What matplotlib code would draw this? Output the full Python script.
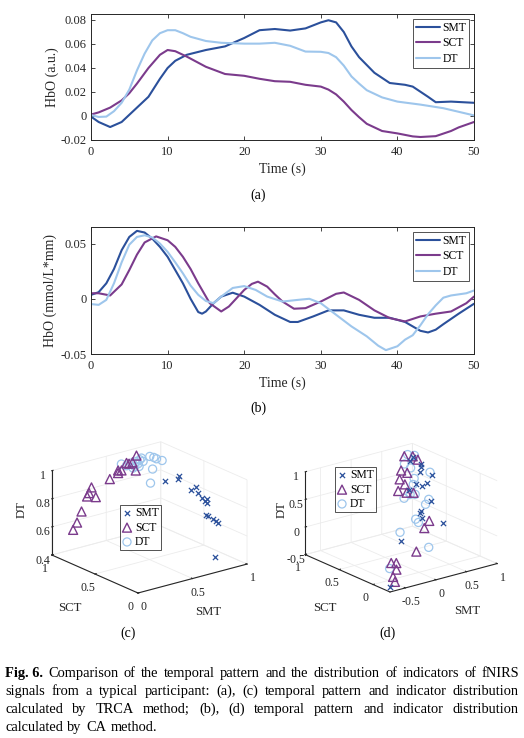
import numpy as np
import matplotlib
matplotlib.use('Agg')
import matplotlib.pyplot as plt
from mpl_toolkits.mplot3d import proj3d

plt.rcParams['font.family'] = ['Liberation Serif', 'DejaVu Serif']
plt.rcParams['mathtext.fontset'] = 'stix'

# ---------------- data ----------------
series_names = ['SMT', 'SCT', 'DT']
colors = {'SMT': '#2B509B', 'SCT': '#7B3B8C', 'DT': '#9EC6EC'}

# (a) TRCA temporal pattern
t_smt_a = [0, 1, 2.5, 4, 5, 6, 7.5, 9, 10, 11, 12.5, 15, 17.5, 20, 22, 24, 26, 28, 30, 31, 32, 33, 34, 35, 37, 39, 41, 42, 44, 45, 47, 50]
smt_a = [-0.0005, -0.005, -0.0092, -0.005, 0.001, 0.007, 0.016, 0.031, 0.040, 0.046, 0.051, 0.055, 0.058, 0.065, 0.0715, 0.0725, 0.0712, 0.073, 0.078, 0.0798, 0.078, 0.070, 0.058, 0.049, 0.036, 0.0275, 0.026, 0.0245, 0.016, 0.0115, 0.012, 0.011]
t_sct_a = [0, 1, 2.5, 4, 5, 6, 7.5, 9, 10, 11, 12.5, 15, 17.5, 20, 22, 24, 26, 28, 30, 31, 32, 33, 34, 35, 36, 38, 40, 42, 43, 45, 47, 48, 50]
sct_a = [0.0012, 0.003, 0.007, 0.013, 0.019, 0.027, 0.040, 0.051, 0.055, 0.054, 0.0495, 0.041, 0.035, 0.0335, 0.031, 0.029, 0.0285, 0.026, 0.0245, 0.022, 0.018, 0.012, 0.005, -0.001, -0.0065, -0.0125, -0.0145, -0.017, -0.0175, -0.0168, -0.0125, -0.0095, -0.005]
t_dt_a = [0, 1, 2, 3, 4, 5, 6, 7, 8, 9, 10, 11, 12, 13, 15, 17, 20, 22, 24, 26, 28, 30, 31, 32, 33, 34, 35, 36, 38, 40, 43, 46, 48, 50]
dt_a = [0.0008, -0.0008, -0.0005, 0.004, 0.011, 0.022, 0.038, 0.052, 0.063, 0.069, 0.0715, 0.0715, 0.069, 0.066, 0.0625, 0.061, 0.0603, 0.0603, 0.061, 0.0585, 0.0537, 0.0535, 0.0525, 0.049, 0.042, 0.033, 0.027, 0.0215, 0.0155, 0.012, 0.0095, 0.0065, 0.0035, 0.0005]

# (b) CA temporal pattern
t_smt_b = [0, 1, 2, 3, 4, 5, 6, 7, 8, 9, 10, 11, 12, 13, 14, 14.5, 15, 16, 17, 18.5, 20, 22, 24, 26, 27, 29, 31, 33, 35, 37, 39, 41, 43, 44, 45, 46, 48, 50]
smt_b = [0.0035, 0.006, 0.014, 0.027, 0.044, 0.056, 0.0615, 0.060, 0.0545, 0.047, 0.038, 0.026, 0.014, 0.0, -0.012, -0.0135, -0.0115, -0.004, 0.002, 0.0055, 0.002, -0.0055, -0.0145, -0.021, -0.021, -0.016, -0.0105, -0.0105, -0.0145, -0.0172, -0.0172, -0.021, -0.029, -0.0305, -0.028, -0.023, -0.0135, -0.0045]
t_sct_b = [0, 1, 2.5, 4, 5, 6, 7, 8.5, 10, 11, 12, 13, 14, 15, 15.5, 17, 18, 19, 20, 21, 21.8, 23, 24, 25, 26.5, 28, 30, 32, 33, 35, 37, 39, 41, 43, 45, 47, 49, 50]
sct_b = [0.005, 0.005, 0.003, 0.013, 0.026, 0.040, 0.051, 0.0565, 0.053, 0.047, 0.038, 0.027, 0.014, 0.002, -0.004, -0.0115, -0.007, 0.0005, 0.008, 0.0135, 0.0155, 0.011, 0.004, -0.0025, -0.009, -0.0085, -0.0025, 0.0045, 0.0057, -0.001, -0.0105, -0.0175, -0.0205, -0.016, -0.0135, -0.0115, -0.004, 0.002]
t_dt_b = [0, 1, 2, 3, 4, 5, 6, 7, 8, 9, 10, 11, 12, 13, 14, 15, 16, 17, 18.5, 20, 21.5, 23, 25, 27, 28.5, 30, 32, 34, 36, 37.5, 38.5, 40, 41, 42, 43, 44, 45, 46, 47, 49, 50]
dt_b = [-0.0048, -0.0055, -0.001, 0.014, 0.033, 0.049, 0.056, 0.0575, 0.0555, 0.050, 0.0425, 0.033, 0.023, 0.012, 0.0036, -0.002, -0.004, 0.002, 0.0098, 0.0115, 0.008, 0.002, -0.0025, -0.001, 0.0, -0.004, -0.0145, -0.025, -0.034, -0.0425, -0.0465, -0.043, -0.037, -0.033, -0.024, -0.014, -0.006, 0.001, 0.003, 0.005, 0.0075]

xticks_t = [0, 10, 20, 30, 40, 50]
yticks_a = [-0.02, 0, 0.02, 0.04, 0.06, 0.08]
yticklabels_a = ['-0.02', '0', '0.02', '0.04', '0.06', '0.08']
yticks_b = [-0.05, 0, 0.05]
yticklabels_b = ['-0.05', '0', '0.05']

# (c) TRCA indicator distribution  (SMT, SCT, DT)
c_smt_x = [0.92, 0.96, 0.94, 0.97, 0.93, 0.95, 0.96, 0.94, 0.97, 0.95, 0.92, 0.96, 0.94, 0.97, 0.95, 0.90]
c_smt_y = [0.852, 0.740, 0.722, 0.616, 0.505, 0.510, 0.469, 0.412, 0.430, 0.398, 0.379, 0.400, 0.322, 0.322, 0.270, 0.245]
c_smt_z = [0.779, 0.836, 0.824, 0.767, 0.825, 0.777, 0.754, 0.751, 0.751, 0.740, 0.662, 0.642, 0.645, 0.626, 0.628, 0.406]
c_sct_x = [0.022, 0.066, 0.115, 0.174, 0.200, 0.222, 0.230, 0.406, 0.490, 0.498, 0.529, 0.606, 0.646, 0.698, 0.644, 0.591]
c_sct_y = [0.78, 0.79, 0.80, 0.81, 0.82, 0.82, 0.78, 0.84, 0.85, 0.86, 0.86, 0.87, 0.88, 0.90, 0.84, 0.88]
c_sct_z = [0.634, 0.674, 0.740, 0.832, 0.848, 0.884, 0.824, 0.900, 0.923, 0.937, 0.931, 0.960, 0.959, 0.991, 0.912, 0.966]
c_dt_x = [0.540, 0.565, 0.610, 0.660, 0.683, 0.696, 0.698, 0.604, 0.628, 0.765, 0.775, 0.782, 0.801, 0.690, 0.587, 0.639, 0.591]
c_dt_y = [0.875, 0.848, 0.847, 0.852, 0.842, 0.840, 0.823, 0.800, 0.781, 0.830, 0.796, 0.774, 0.733, 0.703, 0.597, 0.807, 0.804]
c_dt_z = [0.97, 0.96, 0.97, 0.97, 0.98, 0.99, 0.97, 0.96, 0.96, 0.99, 0.99, 0.985, 0.98, 0.95, 0.90, 0.97, 0.95]

# (d) CA indicator distribution
d_smt_x = [0.855, 0.790, 0.865, 0.838, 0.780, 0.865, 0.600, 0.646, 0.731, 0.479, 0.577, 0.379, 0.345, 0.322, 0.468, -0.136, -0.734]
d_smt_y = [0.864, 0.839, 0.756, 0.721, 0.683, 0.594, 0.591, 0.542, 0.535, 0.574, 0.350, 0.309, 0.302, 0.240, 0.071, 0.143, -0.235]
d_smt_z = [0.863, 0.824, 0.797, 0.765, 0.719, 0.693, 0.595, 0.578, 0.605, 0.539, 0.431, 0.333, 0.317, 0.268, 0.213, 0.039, -0.420]
d_sct_x = [0.782, 0.866, 0.883, 0.599, 0.638, 0.492, 0.492, 0.355, 0.422, 0.491, 0.356, 0.230, -0.097, -0.472, -0.421, -0.489, -0.599, -0.631]
d_sct_y = [0.922, 0.874, 0.814, 0.804, 0.749, 0.729, 0.652, 0.627, 0.563, 0.524, 0.170, 0.129, -0.049, -0.017, -0.046, -0.109, -0.159, -0.215]
d_sct_z = [0.873, 0.873, 0.840, 0.732, 0.709, 0.644, 0.595, 0.529, 0.513, 0.513, 0.235, 0.164, -0.069, -0.183, -0.183, -0.248, -0.320, -0.370]
d_dt_x = [0.834, 0.893, 0.702, 0.723, 0.874, 0.648, 0.576, 0.440, 0.492, 0.338, 0.577, 0.492, 0.235, 0.229, -0.060, 0.072, -0.546]
d_dt_y = [0.920, 0.873, 0.848, 0.776, 0.627, 0.656, 0.604, 0.528, 0.500, 0.525, 0.377, 0.347, 0.261, 0.215, 0.225, -0.079, -0.060]
d_dt_z = [0.889, 0.882, 0.797, 0.758, 0.716, 0.654, 0.595, 0.497, 0.497, 0.458, 0.448, 0.399, 0.252, 0.219, 0.121, -0.026, -0.238]

caption_lines = [
    "Comparison of the temporal pattern and the distribution of indicators of fNIRS",
    "signals from a typical participant: (a), (c) temporal pattern and indicator distribution",
    "calculated by TRCA method; (b), (d) temporal pattern and indicator distribution",
    "calculated by CA method.",
]

# ---------------- figure ----------------
W, H = 524, 738
fig = plt.figure(figsize=(W / 100, H / 100), dpi=100)
TICK_FS = 9.0
LAB_FS = 10.0
LEG_FS = 8.4
TICK3_FS = 8.6
LAB3_FS = 9.2
AX_COLOR = '#262626'


def px_axes(left, top, right, bottom, **kw):
    return fig.add_axes([left / W, 1 - bottom / H, (right - left) / W, (bottom - top) / H], **kw)


def style_line_axes(ax):
    for sp in ax.spines.values():
        sp.set_color(AX_COLOR)
        sp.set_linewidth(0.7)
    ax.tick_params(direction='in', top=True, right=True, length=3, width=0.6,
                   labelsize=TICK_FS, colors=AX_COLOR)
    ax.tick_params(axis='x', pad=4.5)
    ax.tick_params(axis='y', pad=3)


def line_panel(ax, data, yticks, yticklabels, ylim, ylabel, ylab_x):
    for name, (t, v) in zip(series_names, data):
        ax.plot(t, v, color=colors[name], lw=1.5, label=name, solid_capstyle='round')
    ax.set_xlim(0, 50)
    ax.set_ylim(*ylim)
    ax.set_xticks(xticks_t)
    ax.set_yticks(yticks)
    ax.set_yticklabels(yticklabels)
    style_line_axes(ax)
    ax.set_xlabel('Time (s)', fontsize=LAB_FS, color=AX_COLOR)
    ax.set_ylabel(ylabel, fontsize=LAB_FS, color=AX_COLOR)
    ax.xaxis.set_label_coords(0.5, -0.18)
    ax.yaxis.set_label_coords(ylab_x, 0.5)
    leg = ax.legend(loc='upper right', fontsize=LEG_FS, frameon=True, fancybox=False,
                    edgecolor=AX_COLOR, handlelength=2.0, borderpad=0.25, labelspacing=0.3,
                    handletextpad=0.25, borderaxespad=0.4)
    leg.get_frame().set_linewidth(0.7)


ax_a = px_axes(91, 14, 474, 140)
line_panel(ax_a, [(t_smt_a, smt_a), (t_sct_a, sct_a), (t_dt_a, dt_a)],
           yticks_a, yticklabels_a, (-0.02, 0.085), 'HbO (a.u.)', -0.083)
ax_b = px_axes(91, 227, 474, 354)
line_panel(ax_b, [(t_smt_b, smt_b), (t_sct_b, sct_b), (t_dt_b, dt_b)],
           yticks_b, yticklabels_b, (-0.05, 0.065), 'HbO (mmol/L*mm)', -0.088)

fig.text(258 / W, 1 - 195 / H, '(a)', ha='center', va='center', fontsize=LAB_FS)
fig.text(258 / W, 1 - 408 / H, '(b)', ha='center', va='center', fontsize=LAB_FS)

# ---------------- 3D panels ----------------
ELEV, AZIM = 20.0, -127.8
BOX = (1.0, 1.02, 0.65)


def corner_px(ax, x, y, z):
    xs, ys, _ = proj3d.proj_transform(np.array([x]), np.array([y]), np.array([z]), ax.get_proj())
    return ax.transData.transform(np.column_stack([xs, ys]))[0]


def setup3d(center, size, lims, ticks, ticklabels, groups, O_img, X_img):
    cx, cy = center
    ax = fig.add_axes([(cx - size / 2) / W, 1 - (cy + size / 2) / H, size / W, size / H],
                      projection='3d')
    ax.set_proj_type('ortho')
    ax.view_init(elev=ELEV, azim=AZIM)
    zoom = 1.0
    ax.set_box_aspect(BOX, zoom=zoom)
    for name, (xs, ys, zs) in zip(series_names, groups):
        c = colors[name]
        if name == 'SMT':
            ax.scatter(xs, ys, zs, marker='x', s=14, color=c, linewidths=0.9, depthshade=False, label=name)
        elif name == 'SCT':
            ax.scatter(xs, ys, zs, marker='^', s=42, facecolors='none', edgecolors=c, linewidths=1.0,
                       depthshade=False, label=name)
        else:
            ax.scatter(xs, ys, zs, marker='o', s=34, facecolors='none', edgecolors=c, linewidths=0.9,
                       depthshade=False, label=name)
    ax.set_xlim(*lims[0])
    ax.set_ylim(*lims[1])
    ax.set_zlim(*lims[2])
    ax.set_xticks(ticks[0])
    ax.set_xticklabels(ticklabels[0])
    ax.set_yticks(ticks[1])
    ax.set_yticklabels(ticklabels[1])
    ax.set_zticks(ticks[2])
    ax.set_zticklabels(ticklabels[2])
    for axis in (ax.xaxis, ax.yaxis, ax.zaxis):
        axis.set_pane_color((1, 1, 1, 0))
        axis.pane.set_edgecolor('#ececec')
        axis.pane.set_linewidth(0.6)
        axis.line.set_color(AX_COLOR)
        axis.line.set_linewidth(0.8)
        axis._axinfo['grid'].update(color='#ececec', linewidth=0.6)
        axis._axinfo['tick'].update(inward_factor=0.0, outward_factor=0.15)
    ax.tick_params(labelsize=TICK3_FS, colors=AX_COLOR, pad=-3)
    ax.zaxis.set_tick_params(pad=-4.5)
    ax.set_xlabel('')
    ax.set_ylabel('')
    ax.set_zlabel('')
    # fit projection scale and position so the box sits where it should
    lo = (lims[0][0], lims[1][0], lims[2][0])
    xe = (lims[0][1], lims[1][0], lims[2][0])
    tO = np.array([O_img[0], H - O_img[1]])
    tX = np.array([X_img[0], H - X_img[1]])
    for _ in range(4):
        fig.canvas.draw()
        o = corner_px(ax, *lo)
        e = corner_px(ax, *xe)
        zoom *= np.hypot(*(tX - tO)) / np.hypot(*(e - o))
        ax.set_box_aspect(BOX, zoom=zoom)
        fig.canvas.draw()
        o = corner_px(ax, *lo)
        pos = ax.get_position()
        sh = tO - o
        ax.set_position([pos.x0 + sh[0] / W, pos.y0 + sh[1] / H, pos.width, pos.height])
    return ax


ax_c = setup3d((150, 517), 200,
               [(0, 1), (0, 1), (0.4, 1)],
               [[0, 0.5, 1], [0, 0.5, 1], [0.4, 0.6, 0.8, 1]],
               [['0', '0.5', '1'], ['0', '0.5', '1'], ['0.4', '0.6', '0.8', '1']],
               [(c_smt_x, c_smt_y, c_smt_z), (c_sct_x, c_sct_y, c_sct_z), (c_dt_x, c_dt_y, c_dt_z)],
               (138, 593), (247, 564))
ax_d = setup3d((402, 516), 200,
               [(-0.75, 1), (-0.25, 1), (-0.5, 1)],
               [[-0.5, 0, 0.5, 1], [0, 0.5, 1], [-0.5, 0, 0.5, 1]],
               [['-0.5', '0', '0.5', '1'], ['0', '0.5', '1'], ['-0.5', '0', '0.5', '1']],
               [(d_smt_x, d_smt_y, d_smt_z), (d_sct_x, d_sct_y, d_sct_z), (d_dt_x, d_dt_y, d_dt_z)],
               (390, 592), (497, 563))

for ax, (lx, ly) in ((ax_c, (120, 505)), (ax_d, (335, 467))):
    leg = ax.legend(loc='upper left', bbox_to_anchor=(lx / W, 1 - ly / H), bbox_transform=fig.transFigure,
                    fontsize=LEG_FS, frameon=True, fancybox=False, edgecolor=AX_COLOR,
                    handlelength=0.8, borderpad=0.2, labelspacing=0.2, handletextpad=0.3,
                    borderaxespad=0.0)
    leg.get_frame().set_linewidth(0.7)

# 3D axis labels
for (x, y, s, rot) in [(22, 510, 'DT', 90), (70, 608, 'SCT', 0), (208, 612, 'SMT', 0),
                       (282, 510, 'DT', 90), (325, 608, 'SCT', 0), (467, 611, 'SMT', 0)]:
    fig.text(x / W, 1 - y / H, s, ha='center', va='center', rotation=rot, fontsize=LAB3_FS, color=AX_COLOR)

fig.text(128 / W, 1 - 633 / H, '(c)', ha='center', va='center', fontsize=LAB_FS)
fig.text(388 / W, 1 - 633 / H, '(d)', ha='center', va='center', fontsize=LAB_FS)

# ---------------- caption (justified) ----------------
CAP_FS = 10.4
renderer = fig.canvas.get_renderer()
baselines = [677, 695, 713, 731]
x_left, x_right = 5, 519
for i, (line, yb) in enumerate(zip(caption_lines, baselines)):
    words = line.split(' ')
    items = []
    if i == 0:
        items.append(fig.text(0, 0, 'Fig. 6.', fontsize=CAP_FS, fontweight='bold', va='baseline'))
    for w in words:
        items.append(fig.text(0, 0, w, fontsize=CAP_FS, va='baseline'))
    widths = [t.get_window_extent(renderer).width for t in items]
    if i < len(caption_lines) - 1:
        gap = (x_right - x_left - sum(widths)) / (len(items) - 1)
    else:
        gap = CAP_FS * 100 / 72 * 0.3
    x = x_left
    for t, w in zip(items, widths):
        t.set_position((x / W, 1 - yb / H))
        x += w + gap

fig.savefig('out.png', dpi=100)
